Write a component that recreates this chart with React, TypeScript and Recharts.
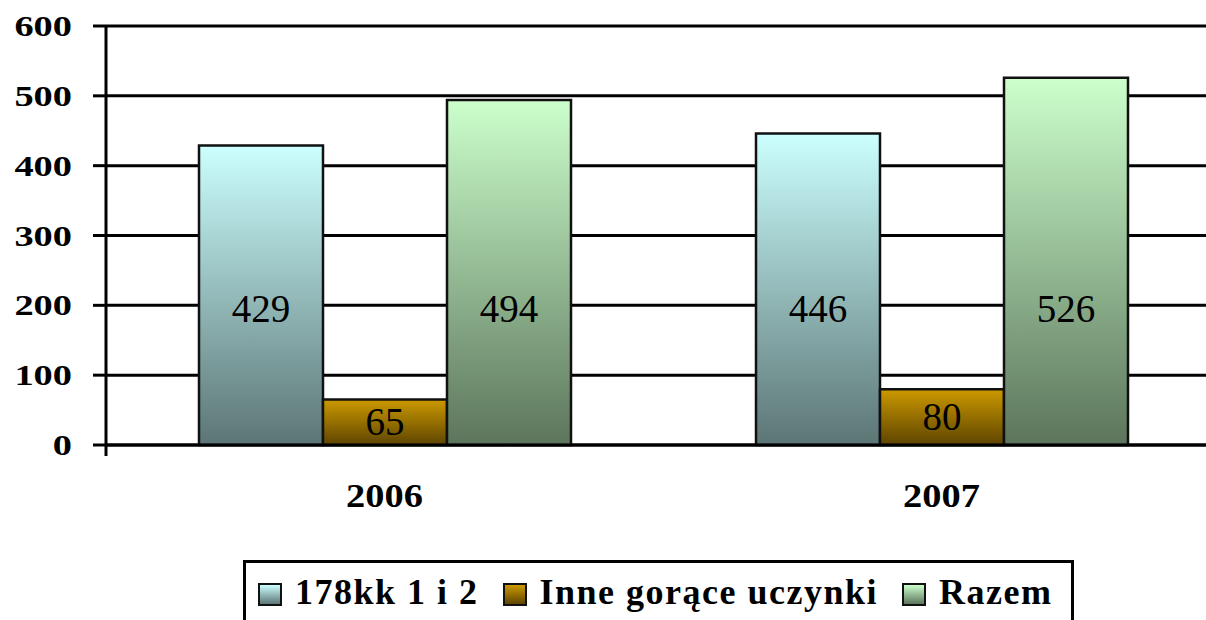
import { BarChart, Bar, XAxis, YAxis, CartesianGrid, LabelList } from "recharts";

const years = ["2006", "2007"];
const seriesNames = ["178kk 1 i 2", "Inne gorące uczynki", "Razem"];
const art178 = [429, 446];
const inne = [65, 80];
const razem = [494, 526];
const yTicks = [0, 100, 200, 300, 400, 500, 600];

const keys = ["art178", "inne", "razem"];
const gradients = [
  ["#ccffff", "#5c7575"],
  ["#cc9900", "#5e4500"],
  ["#ccffcc", "#5c755c"],
];

const data = years.map((year, i) => ({
  year,
  art178: art178[i],
  inne: inne[i],
  razem: razem[i],
}));

const serif = "'Liberation Serif', 'Times New Roman', serif";

const YTick = ({ x, y, payload }: any) => (
  <text
    transform={`translate(${x - 21},${y + 10}) scale(1.28,1)`}
    textAnchor="end"
    fontFamily={serif}
    fontWeight="bold"
    fontSize={30}
    fill="#000"
  >
    {payload.value}
  </text>
);

const XTick = ({ x, y, payload }: any) => (
  <text
    transform={`translate(${x},${y + 62}) scale(1.13,1)`}
    textAnchor="middle"
    fontFamily={serif}
    fontWeight="bold"
    fontSize={34}
    fill="#000"
  >
    {payload.value}
  </text>
);

const emptyTick = () => <g />;

// tall bars keep their label near a fixed height above the base, short ones get it centred
const valueLabel = (props: any) => {
  const { x, y, width, height, value } = props;
  const cy = Math.max(y + height / 2, y + height - 136);
  return (
    <text
      x={x + width / 2}
      y={cy + 13}
      textAnchor="middle"
      fontFamily={serif}
      fontSize={39}
      fill="#000"
    >
      {value}
    </text>
  );
};

const Legend2 = () => (
  <div
    style={{
      position: "absolute",
      left: 243,
      top: 560,
      width: 831,
      height: 70,
      border: "3px solid #000",
      background: "#fff",
      display: "flex",
      alignItems: "flex-start",
      paddingLeft: 12,
      paddingTop: 11,
      boxSizing: "border-box",
      fontFamily: serif,
      fontWeight: "bold",
      fontSize: 36,
      letterSpacing: 1.5,
      whiteSpace: "nowrap",
    }}
  >
    {seriesNames.map((name, i) => (
      <div key={name} style={{ display: "flex", alignItems: "center", marginRight: 24 }}>
        <span
          style={{
            display: "inline-block",
            width: 20,
            height: 19,
            border: "2px solid #111",
            background: `linear-gradient(${gradients[i][0]}, ${gradients[i][1]})`,
            marginRight: 13,
            marginTop: 4,
          }}
        />
        <span style={{ lineHeight: "36px" }}>{name}</span>
      </div>
    ))}
  </div>
);

export default function App() {
  return (
    <div
      style={{
        position: "absolute",
        left: 0,
        top: 0,
        width: 1206,
        height: 620,
        overflow: "hidden",
        background: "#fff",
      }}
    >
      <BarChart
        width={1220}
        height={620}
        data={data}
        margin={{ top: 26, right: 0, left: 0, bottom: 0 }}
        barSize={124}
        barGap={0}
      >
        <defs>
          {gradients.map((g, i) => (
            <linearGradient key={i} id={`grad${i}`} x1="0" y1="0" x2="0" y2="1">
              <stop offset="0%" stopColor={g[0]} />
              <stop offset="100%" stopColor={g[1]} />
            </linearGradient>
          ))}
        </defs>
        <CartesianGrid vertical={false} stroke="#000" strokeWidth={3} />
        <XAxis
          dataKey="year"
          height={1}
          interval={0}
          tickLine={false}
          tickSize={0}
          tickMargin={0}
          axisLine={{ stroke: "#000", strokeWidth: 3 }}
          tick={XTick}
        />
        <XAxis
          xAxisId="edge"
          type="number"
          domain={[0, 2]}
          ticks={[0, 1, 2]}
          height={174}
          axisLine={false}
          tickSize={10}
          tickLine={{ stroke: "#000", strokeWidth: 3 }}
          tick={emptyTick}
        />
        <YAxis
          width={106}
          domain={[0, 600]}
          ticks={yTicks}
          interval={0}
          tickSize={13}
          tickMargin={0}
          tickLine={{ stroke: "#000", strokeWidth: 3 }}
          axisLine={{ stroke: "#000", strokeWidth: 3 }}
          tick={YTick}
        />
        {keys.map((k, i) => (
          <Bar
            key={k}
            dataKey={k}
            name={seriesNames[i]}
            fill={`url(#grad${i})`}
            stroke="#111"
            strokeWidth={2.5}
            isAnimationActive={false}
          >
            <LabelList dataKey={k} content={valueLabel} />
          </Bar>
        ))}
      </BarChart>
      <Legend2 />
    </div>
  );
}
